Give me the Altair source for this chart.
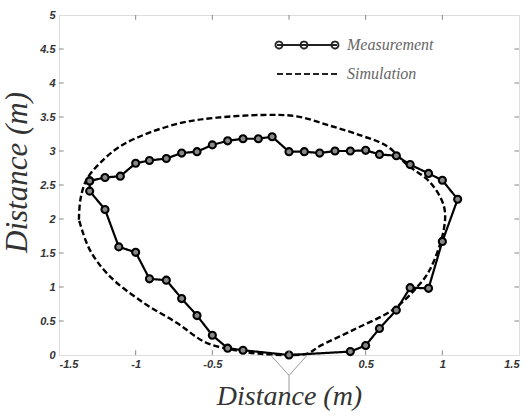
import altair as alt
import pandas as pd

# Measurement loop (closed)
meas_x = [-1.30, -1.20, -1.10, -1.00, -0.91, -0.80, -0.70, -0.60, -0.50, -0.40,
          -0.30, -0.20, -0.11, 0.00, 0.10, 0.20, 0.30, 0.40, 0.50, 0.59,
          0.70, 0.79, 0.91, 1.00, 1.10, 1.00, 0.91, 0.79, 0.70, 0.59,
          0.50, 0.40, 0.00, -0.30, -0.40, -0.50, -0.60, -0.70, -0.80, -0.91,
          -1.00, -1.11, -1.20, -1.30, -1.30]
meas_y = [2.56, 2.61, 2.63, 2.82, 2.86, 2.89, 2.97, 2.99, 3.09, 3.15,
          3.18, 3.18, 3.21, 2.99, 2.99, 2.97, 3.00, 3.00, 3.01, 2.95,
          2.93, 2.80, 2.67, 2.57, 2.29, 1.67, 0.98, 0.99, 0.66, 0.39,
          0.14, 0.05, 0.00, 0.07, 0.10, 0.29, 0.58, 0.83, 1.10, 1.12,
          1.51, 1.59, 2.14, 2.41, 2.56]

# Simulation loop (closed)
sim_x = [-1.37, -1.36, -1.32, -1.23, -1.10, -0.91, -0.69, -0.47, -0.17, 0.05,
         0.27, 0.48, 0.64, 0.77, 0.92, 1.01, 1.01, 0.92, 0.84, 0.68,
         0.42, 0.20, 0.12, 0.00, -0.20, -0.35, -0.54, -0.73, -0.95, -1.17,
         -1.30, -1.37]
sim_y = [1.99, 2.29, 2.58, 2.83, 3.07, 3.27, 3.42, 3.49, 3.53, 3.51,
         3.37, 3.22, 3.07, 2.80, 2.54, 2.19, 1.85, 1.26, 1.01, 0.67,
         0.37, 0.13, 0.02, 0.00, 0.02, 0.07, 0.18, 0.47, 0.77, 1.16,
         1.55, 1.99]

series_names = ["Measurement", "Simulation"]
x_ticks = [-1.5, -1, -0.5, 0.5, 1, 1.5]
y_ticks = [0, 0.5, 1, 1.5, 2, 2.5, 3, 3.5, 4, 4.5, 5]
inner_x = [-1, -0.5, 0, 0.5, 1]
inner_y = [0.5, 1, 1.5, 2, 2.5, 3, 3.5, 4, 4.5]

# annotation "Y" marker below x = 0
ann_x = [-0.12, 0.0, 0.12]
ann_y = [0.0, -0.30, 0.0]
stem_x = [0.0, 0.0]
stem_y = [-0.30, -0.55]

meas_df = pd.DataFrame({"x": meas_x, "y": meas_y, "i": range(len(meas_x)), "series": series_names[0]})
sim_df = pd.DataFrame({"x": sim_x, "y": sim_y, "i": range(len(sim_x)), "series": series_names[1]})
ann_df = pd.DataFrame({"x": ann_x + stem_x, "y": ann_y + stem_y,
                       "i": list(range(5)), "g": ["v", "v", "v", "s", "s"]})

xs = alt.Scale(domain=[-1.5, 1.5], nice=False)
ys = alt.Scale(domain=[0, 5], nice=False)

lab = dict(labelFont="Liberation Sans", labelFontWeight="bold", labelFontStyle="italic",
           labelFontSize=11, labelColor="#333", domain=False, ticks=False, grid=False,
           titleFont="Liberation Serif", titleFontStyle="italic", titleFontWeight="normal",
           titleColor="#333", labelExpr="datum.value + ''", labelOverlap=False)

x_axis = alt.Axis(values=x_ticks, title="Distance (m)", titleFontSize=28,
                  labelPadding=3, titlePadding=13, **lab)
y_axis = alt.Axis(values=y_ticks, title="Distance (m)", titleFontSize=31,
                  labelPadding=4, titlePadding=6, titleY=157, **lab)
x_enc = alt.X("x:Q", scale=xs, axis=x_axis)
y_enc = alt.Y("y:Q", scale=ys, axis=y_axis)

meas_path = ("M-3,0L3,0"
             "M-2.45,0A0.35,0.35 0 1,0 -3.15,0A0.35,0.35 0 1,0 -2.45,0"
             "M0.05,0A0.35,0.35 0 1,0 -0.65,0A0.35,0.35 0 1,0 0.05,0"
             "M3.15,0A0.35,0.35 0 1,0 2.45,0A0.35,0.35 0 1,0 3.15,0")
sim_path = "M-3,0L3,0"

dash_scale = alt.Scale(domain=series_names, range=[[1, 0], [6, 3]])
leg = alt.Legend(
    title=None, orient="none", legendX=237, legendY=19,
    symbolSize=400, symbolStrokeWidth=1.8, symbolOpacity=1,
    symbolStrokeColor="#222", symbolFillColor="white",
    labelFont="Liberation Serif", labelFontStyle="italic", labelFontSize=16,
    labelColor="#666", labelOffset=29, rowPadding=10, padding=0)
dash_enc = alt.StrokeDash("series:N", scale=dash_scale, legend=leg)

sim = alt.Chart(sim_df).mark_line(color="black", strokeWidth=2.4, interpolate="catmull-rom").encode(
    x=x_enc, y=y_enc, order="i:Q", strokeDash=dash_enc)
meas = alt.Chart(meas_df).mark_line(color="black", strokeWidth=2.2).encode(
    x=x_enc, y=y_enc, order="i:Q", strokeDash=dash_enc)
pts = alt.Chart(meas_df).mark_point(shape="circle", size=50, stroke="black", strokeWidth=2.1,
                                    fill="#888", fillOpacity=1, opacity=1).encode(x=x_enc, y=y_enc)

# legend-only layer (no rows drawn)
legend_layer = alt.Chart(pd.concat([meas_df, sim_df])).transform_filter("false").mark_point(
    filled=False, stroke="#222").encode(
    x=x_enc, y=y_enc,
    shape=alt.Shape("series:N", scale=alt.Scale(domain=series_names, range=[meas_path, sim_path]), legend=leg),
    strokeDash=dash_enc)

tick_rows = []
for v in inner_x:
    tick_rows.append({"x": v, "x2": v, "y": 0, "y2": 0.07})
    tick_rows.append({"x": v, "x2": v, "y": 5, "y2": 4.93})
for v in inner_y:
    tick_rows.append({"x": -1.5, "x2": -1.47, "y": v, "y2": v})
    tick_rows.append({"x": 1.5, "x2": 1.47, "y": v, "y2": v})
tick_df = pd.DataFrame(tick_rows)
ticks = alt.Chart(tick_df).mark_rule(color="#888", strokeWidth=1).encode(
    x=x_enc, x2="x2:Q", y=y_enc, y2="y2:Q")

ann = alt.Chart(ann_df).mark_line(color="#999", strokeWidth=1, clip=False).encode(
    x=x_enc, y=y_enc, order="i:Q", detail="g:N")

chart = alt.layer(sim, meas, pts, legend_layer, ticks, ann).properties(
    width=460, height=340,
    autosize=alt.AutoSizeParams(type="none"),
    padding={"left": 59, "top": 15, "right": 9, "bottom": 61},
).configure_view(stroke="#999", strokeWidth=2).configure(background="white")

chart.save("out.html", embed_options={"renderer": "svg", "actions": False})
